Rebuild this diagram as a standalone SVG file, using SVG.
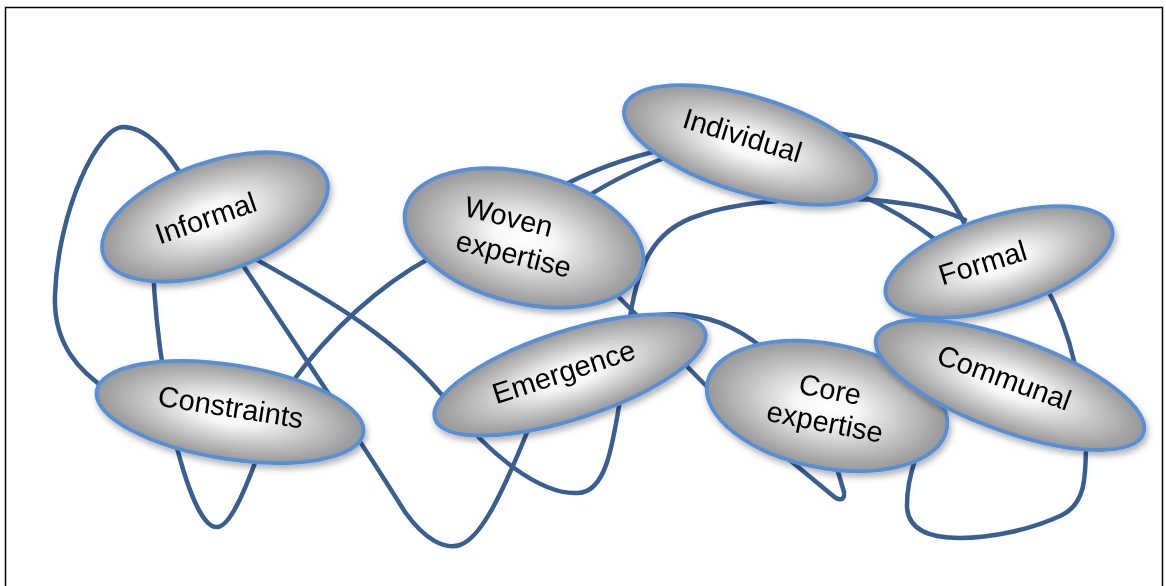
<svg xmlns="http://www.w3.org/2000/svg" width="1166" height="586" viewBox="0 0 1166 586">
<defs>
<radialGradient id="fillg" cx="50%" cy="50%" r="50%">
<stop offset="0" stop-color="#ffffff"/>
<stop offset="0.25" stop-color="#f7f7f7"/>
<stop offset="1" stop-color="#979797"/>
</radialGradient>
<filter id="sh" x="-20%" y="-20%" width="140%" height="150%">
<feDropShadow dx="2" dy="4" stdDeviation="3" flood-color="#000" flood-opacity="0.3"/>
</filter>
</defs>
<style>
.edge{fill:none;stroke:#3a5f8f;stroke-width:4.5;stroke-linecap:round;stroke-linejoin:round}
.node ellipse{fill:url(#fillg);stroke:#568fd6;stroke-width:3.8}
.node text{font-family:"Liberation Sans",Arial,sans-serif;font-size:29px;fill:#000;text-anchor:middle}
</style>
<rect x="5.5" y="7.5" width="1157" height="620" fill="#fff" stroke="#000" stroke-width="1.5"/>
<g id="connectors">
<path class="edge" d="M185,182 C168,150 145,127 123,127 C98,127 58,210 55,295 C53,345 80,372 110,392"/>
<path class="edge" d="M153,265 Q155,320 164,375"/>
<path class="edge" d="M238,258 C300,350 360,440 405,512 C425,540 445,550 460,545 C480,538 500,500 530,425"/>
<path class="edge" d="M250,256 C330,300 400,340 450,405 C490,455 540,495 578,493 C605,492 612,450 620,400"/>
<path class="edge" d="M628,330 C636,270 650,230 700,215 C750,198 850,195 900,203 C930,207 950,212 965,220"/>
<path class="edge" d="M605,283 L720,400"/>
<path class="edge" d="M555,190 Q605,162 670,148"/>
<path class="edge" d="M585,198 Q625,172 680,152"/>
<path class="edge" d="M430,258 C380,285 330,330 290,385"/>
<path class="edge" d="M175,440 C190,500 205,528 217,527 C230,527 245,490 258,455"/>
<path class="edge" d="M830,133 C890,135 940,170 965,225"/>
<path class="edge" d="M860,195 Q900,212 940,243"/>
<path class="edge" d="M650,316 C690,310 730,320 765,350"/>
<path class="edge" d="M780,452 L832,495 C840,502 845,500 844,492 L836,465"/>
<path class="edge" d="M1086,440 C1086,480 1085,505 1060,516 C1030,530 990,538 960,538 C930,538 907,530 907,505 C907,490 910,475 915,460"/>
<path class="edge" d="M1045,285 Q1065,320 1075,365"/>
</g>
<g id="n-informal" class="node" transform="translate(215,217)" filter="url(#sh)"><g transform="rotate(-19)"><ellipse rx="118" ry="55"/><text x="-9" y="8">Informal</text></g></g>
<g id="n-constraints" class="node" transform="translate(230,412)" filter="url(#sh)"><g transform="rotate(9)"><ellipse rx="135" ry="47"/><text x="0" y="5">Constraints</text></g></g>
<g id="n-woven" class="node" transform="translate(524,238)" filter="url(#sh)"><g transform="rotate(14)"><ellipse rx="122" ry="65"/><text x="-20" y="-7">Woven</text><text x="-6" y="28">expertise</text></g></g>
<g id="n-individual" class="node" transform="translate(750,145)" filter="url(#sh)"><g transform="rotate(17)"><ellipse rx="131" ry="48"/><text x="-10" y="3">Individual</text></g></g>
<g id="n-emergence" class="node" transform="translate(570,375)" filter="url(#sh)"><g transform="rotate(-18)"><ellipse rx="142" ry="44"/><text x="-5" y="5">Emergence</text></g></g>
<g id="n-core" class="node" transform="translate(827,406)" filter="url(#sh)"><g transform="rotate(11)"><ellipse rx="122" ry="62"/><text x="0" y="-7">Core</text><text x="1" y="26">expertise</text></g></g>
<g id="n-formal" class="node" transform="translate(999,262)" filter="url(#sh)"><g transform="rotate(-17)"><ellipse rx="118" ry="46"/><text x="-16" y="6">Formal</text></g></g>
<g id="n-communal" class="node" transform="translate(1010,385)" filter="url(#sh)"><g transform="rotate(20)"><ellipse rx="142" ry="46"/><text x="-8" y="5">Communal</text></g></g>
</svg>
